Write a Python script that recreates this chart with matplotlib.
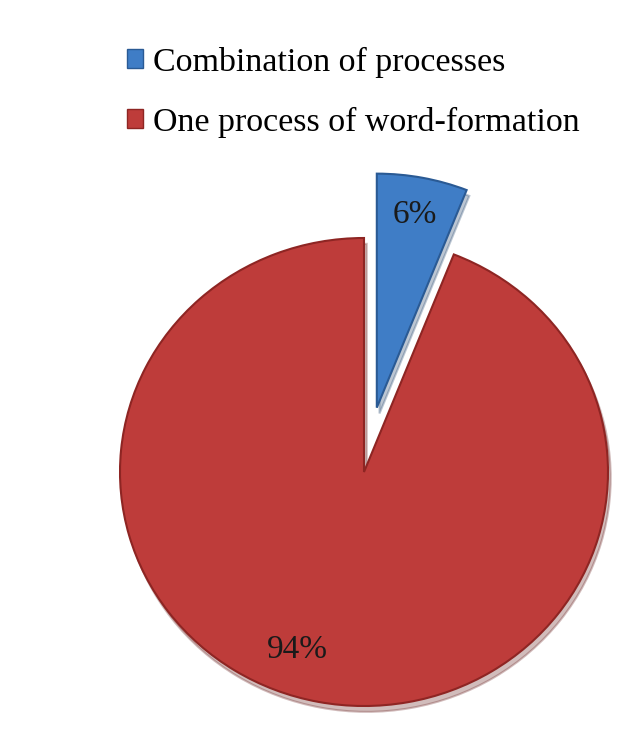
import matplotlib.pyplot as plt
from matplotlib.patches import Patch

# share of word-formation types
labels = ["Combination of processes", "One process of word-formation"]
shares = [6, 94]
colors = ["#3F7DC6", "#BE3C3A"]
edges = ["#2A5A94", "#8E2523"]

plt.rcParams["font.family"] = ["Liberation Serif", "DejaVu Serif"]

W, H = 629, 752
fig = plt.figure(figsize=(W / 100, H / 100), dpi=100)
ax = fig.add_axes([0, 0, 1, 1])

wedges, texts, autotexts = ax.pie(
    shares,
    colors=colors,
    explode=[0.28, 0],
    startangle=90,
    counterclock=False,
    autopct="%d%%",
    pctdistance=0.84,
    shadow={"ox": 0.008, "oy": -0.018, "shade": 0.45, "alpha": 0.3},
    wedgeprops=dict(linewidth=1.5),
    textprops=dict(fontsize=24, color="#1a1a1a"),
)
for w, ec in zip(wedges, edges):
    w.set_edgecolor(ec)

# 94% label sits lower-left of the slice middle
autotexts[1].set_position((-0.275, -0.76))

# pie centre at (364, 472) px, radii 244 x 234 px
cx, cy, rx, ry = 364, 472, 244, 234
ax.set_aspect("auto")
ax.set_xlim(-cx / rx, (W - cx) / rx)
ax.set_ylim(-(H - cy) / ry, cy / ry)
ax.axis("off")

handles = [Patch(facecolor=c, edgecolor=e, linewidth=1) for c, e in zip(colors, edges)]
fig.legend(
    handles, labels,
    loc="upper left",
    bbox_to_anchor=(113 / W, 1 - 33 / H),
    frameon=False,
    fontsize=24.5,
    handlelength=0.48,
    handleheight=0.48,
    handletextpad=0.3,
    labelspacing=0.85,
    borderaxespad=0,
)

fig.savefig("out.png", dpi=100, facecolor="white")
